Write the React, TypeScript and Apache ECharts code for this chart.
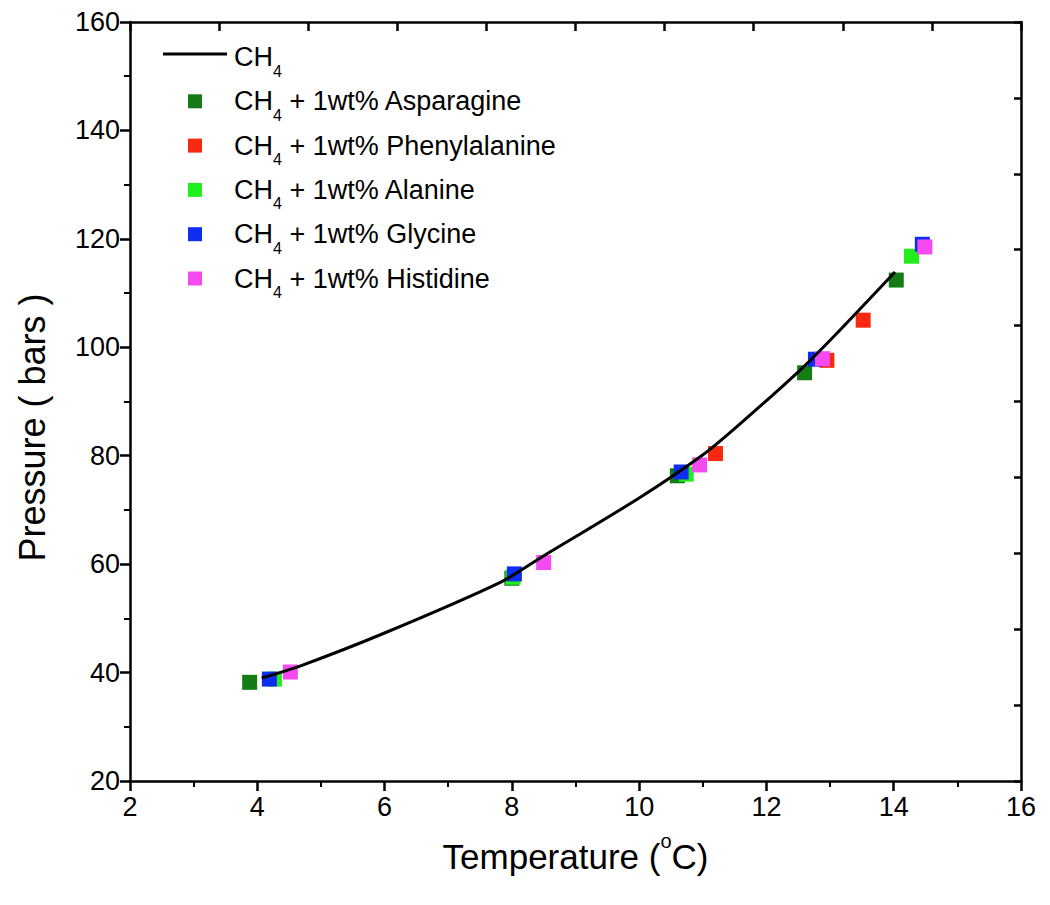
import React, { useEffect, useRef } from "react";
import * as echarts from "echarts";

const FONT = "Liberation Sans, Arial, sans-serif";

// CH4 equilibrium curve
const ch4X = [4.07, 4.67, 6.0, 7.81, 8.44, 10.0, 10.96, 11.5, 12.53, 13.05, 14.02];
const ch4Y = [39.0, 41.2, 47.3, 56.6, 61.1, 72.2, 79.8, 85.0, 95.8, 101.9, 113.9];

const asparagine = [[3.88, 38.2], [8.0, 57.4], [10.6, 76.3], [12.6, 95.3], [14.04, 112.4]];
const phenylalanine = [[11.2, 80.4], [12.95, 97.6], [13.52, 105.0]];
const alanine = [[4.27, 38.8], [8.02, 57.6], [10.74, 76.6], [14.28, 116.8]];
const glycine = [[4.19, 38.8], [8.04, 58.2], [10.66, 77.0], [12.77, 97.8], [14.45, 119.0]];
const histidine = [[4.52, 40.1], [8.5, 60.3], [10.95, 78.3], [12.88, 97.9], [14.49, 118.5]];

const seriesNames = [
  "CH4 + 1wt% Asparagine",
  "CH4 + 1wt% Phenylalanine",
  "CH4 + 1wt% Alanine",
  "CH4 + 1wt% Glycine",
  "CH4 + 1wt% Histidine",
];
const legendSuffix = [" + 1wt% Asparagine", " + 1wt% Phenylalanine", " + 1wt% Alanine", " + 1wt% Glycine", " + 1wt% Histidine"];
const seriesData = [asparagine, phenylalanine, alanine, glycine, histidine];
const colors = ["#157c15", "#f8290f", "#22ee1c", "#0d2ef0", "#f54af0"];

export default function App() {
  const ref = useRef<HTMLDivElement>(null);
  useEffect(() => {
    const chart = echarts.init(ref.current!, null, { renderer: "svg" });
    const lineData = ch4X.map((x, i) => [x, ch4Y[i]]);
    const rowY0 = 57;
    const rowGap = 44.3;
    const rich = {
      m: { fontSize: 27, lineHeight: 44, fontFamily: FONT, fill: "#000" },
      s: { fontSize: 16, lineHeight: 16, verticalAlign: "bottom", fontFamily: FONT, fill: "#000" },
    };
    const legendGraphics: any[] = [
      { type: "line", shape: { x1: 163, y1: 54, x2: 227, y2: 54 }, style: { stroke: "#000", lineWidth: 3 } },
      {
        type: "text",
        x: 234,
        y: rowY0,
        style: { text: "{m|CH}{s|4}", verticalAlign: "middle", fill: "#000", rich },
      },
    ];
    legendSuffix.forEach((suf, i) => {
      const cy = rowY0 + rowGap * (i + 1);
      legendGraphics.push({
        type: "rect",
        shape: { x: 188, y: cy - 7, width: 14, height: 14 },
        style: { fill: colors[i] },
      });
      legendGraphics.push({
        type: "text",
        x: 234,
        y: cy,
        style: { text: "{m|CH}{s|4}{m|" + suf + "}", verticalAlign: "middle", fill: "#000", rich },
      });
    });

    const option: any = {
      animation: false,
      backgroundColor: "#fff",
      grid: { left: 130, right: 29, top: 22, bottom: 124, containLabel: false },
      xAxis: [
        {
          type: "value",
          min: 2,
          max: 16,
          interval: 2,
          name: "{m|Temperature (}{s|o}{m|C)}",
          nameLocation: "middle",
          nameGap: 50,
          nameTextStyle: {
            fontFamily: FONT,
            color: "#000",
            rich: {
              m: { fontSize: 35, lineHeight: 50, fontFamily: FONT, color: "#000" },
              s: { fontSize: 20, lineHeight: 22, verticalAlign: "top", fontFamily: FONT, color: "#000" },
            },
          },
          axisLine: { show: true, onZero: false, lineStyle: { color: "#000", width: 2.5 } },
          axisTick: { show: true, inside: false, length: 10, lineStyle: { color: "#000", width: 2.5 } },
          minorTick: { show: true, splitNumber: 2, length: 6, lineStyle: { color: "#000", width: 2 } },
          splitLine: { show: false },
          axisLabel: { fontSize: 27, fontFamily: FONT, color: "#000", margin: 12 },
        },
        {
          type: "value",
          position: "top",
          min: 0,
          max: 10,
          interval: 1,
          axisLine: { show: true, onZero: false, lineStyle: { color: "#000", width: 2.5 } },
          axisTick: { show: true, inside: true, length: 9, lineStyle: { color: "#000", width: 2.5 } },
          axisLabel: { show: false },
          splitLine: { show: false },
        },
      ],
      yAxis: [
        {
          type: "value",
          min: 20,
          max: 160,
          interval: 20,
          name: "Pressure ( bars )",
          nameLocation: "middle",
          nameGap: 80,
          nameTextStyle: { fontSize: 36, fontFamily: FONT, color: "#000", padding: [0, 52, 0, 0] },
          axisLine: { show: true, onZero: false, lineStyle: { color: "#000", width: 2.5 } },
          axisTick: { show: true, inside: false, length: 10, lineStyle: { color: "#000", width: 2.5 } },
          minorTick: { show: true, splitNumber: 2, length: 6, lineStyle: { color: "#000", width: 2 } },
          splitLine: { show: false },
          axisLabel: { fontSize: 27, fontFamily: FONT, color: "#000", margin: 10 },
        },
        {
          type: "value",
          position: "right",
          min: 0,
          max: 10,
          interval: 1,
          axisLine: { show: true, onZero: false, lineStyle: { color: "#000", width: 2.5 } },
          axisTick: { show: true, inside: true, length: 7, lineStyle: { color: "#000", width: 2.5 } },
          axisLabel: { show: false },
          splitLine: { show: false },
        },
      ],
      graphic: legendGraphics,
      series: [
        ...seriesData.map((d, i) => ({
          name: seriesNames[i],
          type: "scatter",
          xAxisIndex: 0,
          yAxisIndex: 0,
          data: d,
          symbol: "rect",
          symbolSize: 15,
          itemStyle: { color: colors[i], opacity: 1 },
          z: 2,
        })),
        {
          name: "CH4",
          type: "line",
          xAxisIndex: 0,
          yAxisIndex: 0,
          data: lineData,
          smooth: 0.3,
          showSymbol: false,
          lineStyle: { color: "#000", width: 3 },
          z: 5,
        },
      ],
    };
    chart.setOption(option);
    return () => chart.dispose();
  }, []);
  return (
    <div
      ref={ref}
      style={{ position: "fixed", left: 0, top: 0, width: 1050, height: 905, background: "#fff" }}
    />
  );
}
